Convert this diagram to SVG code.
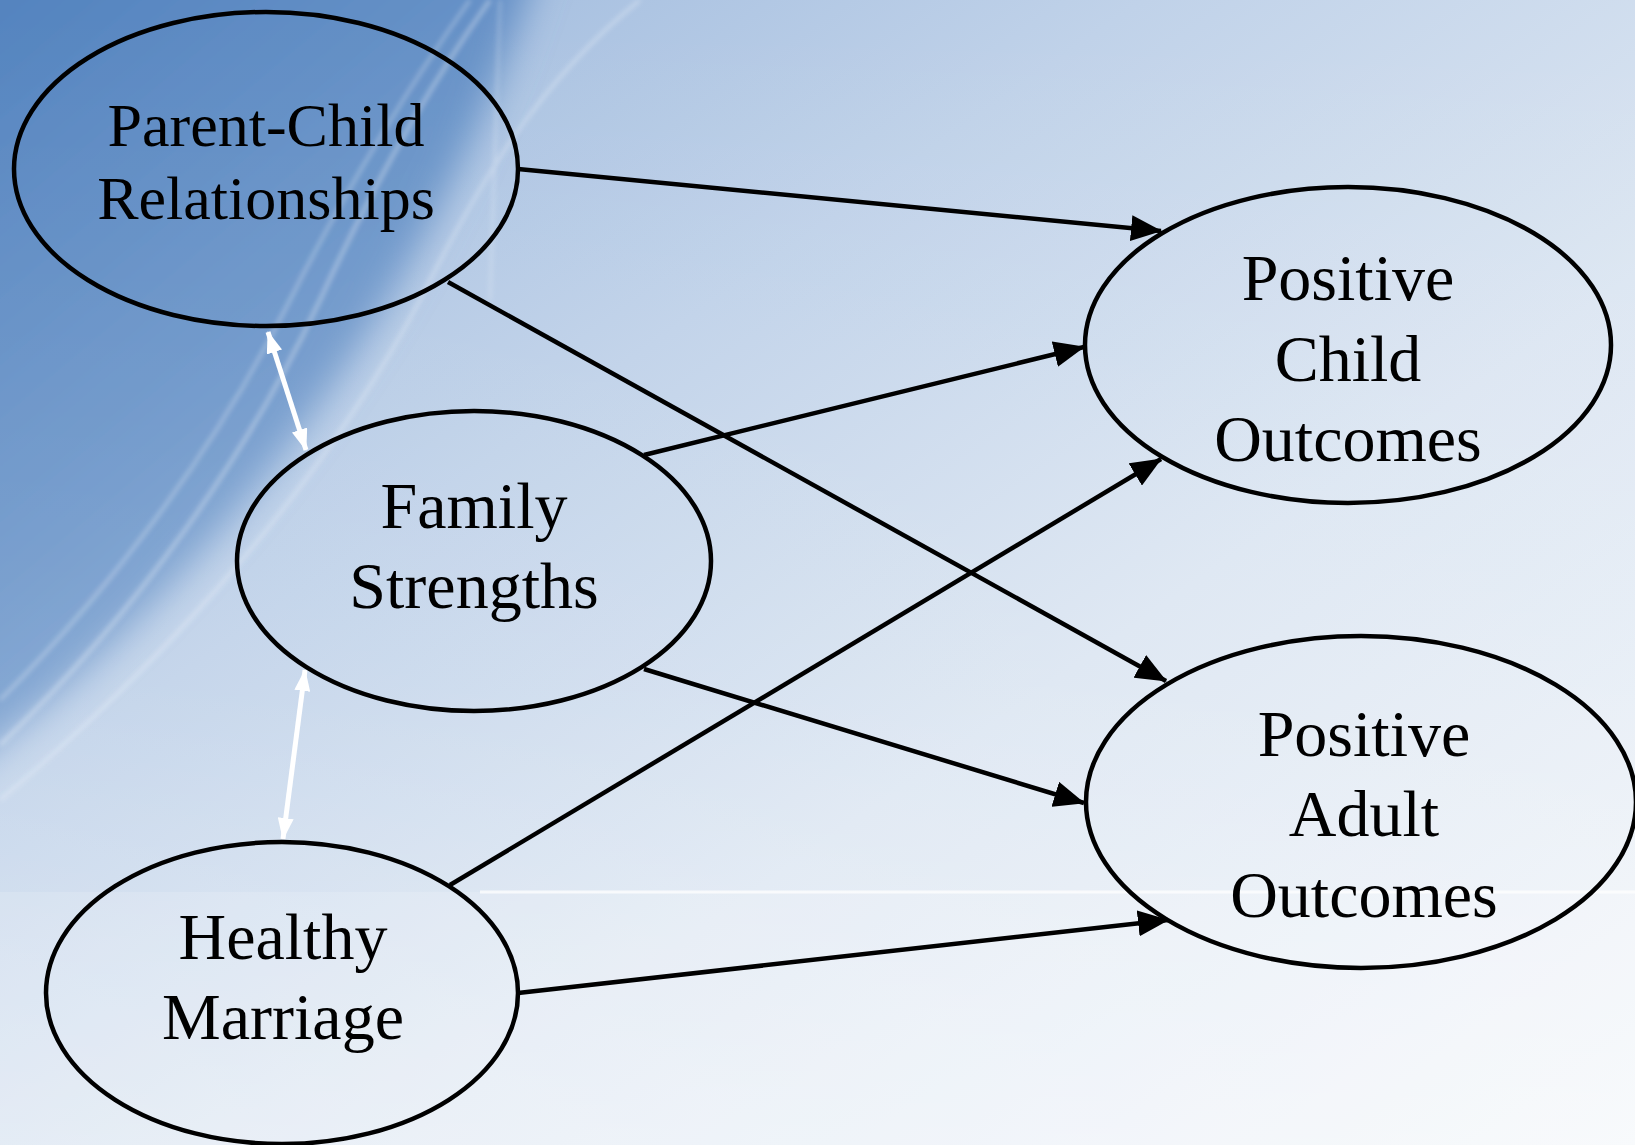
<svg xmlns="http://www.w3.org/2000/svg" width="1635" height="1145" viewBox="0 0 1635 1145">
<defs>
<linearGradient id="bg" x1="0" y1="0" x2="1" y2="1">
<stop offset="0" stop-color="#95b3da"/>
<stop offset="0.35" stop-color="#c0d2e9"/>
<stop offset="0.62" stop-color="#dce6f2"/>
<stop offset="1" stop-color="#f3f6fa"/>
</linearGradient>
<linearGradient id="dark" x1="0" y1="0" x2="0.6" y2="1">
<stop offset="0" stop-color="#4f80bd"/>
<stop offset="0.6" stop-color="#6e97ca"/>
<stop offset="1" stop-color="#8eafd8"/>
</linearGradient>
<linearGradient id="bgv" x1="0" y1="0" x2="0" y2="1">
<stop offset="0" stop-color="#ffffff" stop-opacity="0"/>
<stop offset="0.6" stop-color="#ffffff" stop-opacity="0.1"/>
<stop offset="1" stop-color="#ffffff" stop-opacity="0.35"/>
</linearGradient>
<filter id="blur" x="-20%" y="-20%" width="140%" height="140%">
<feGaussianBlur stdDeviation="18"/>
</filter>
<filter id="sblur" x="-10%" y="-10%" width="120%" height="120%">
<feGaussianBlur stdDeviation="2.5"/>
</filter>
<marker id="ah" markerUnits="userSpaceOnUse" markerWidth="32" markerHeight="26" refX="30" refY="13" orient="auto">
<path d="M0,0 L31,13 L0,26 z" fill="#000"/>
</marker>
<marker id="wh" markerUnits="userSpaceOnUse" markerWidth="22" markerHeight="16" refX="21" refY="8" orient="auto-start-reverse">
<path d="M0,0 L22,8 L0,16 z" fill="#fff"/>
</marker>
<style>
.node ellipse{fill:none;stroke:#000;stroke-width:4.5}
.node text{font-family:"Liberation Serif","Times New Roman",serif;font-size:66px;fill:#000;text-anchor:middle}
.c line{stroke:#000;stroke-width:4.5;marker-end:url(#ah)}
.w line{stroke:#fff;stroke-width:5;marker-start:url(#wh);marker-end:url(#wh)}
.sw{fill:none;stroke:#ffffff}
</style>
</defs>
<rect x="0" y="0" width="1635" height="1145" fill="url(#bg)"/>
<path d="M-60,-60 H545 C470,200 300,520 -60,790 Z" fill="url(#dark)" filter="url(#blur)"/>
<rect x="0" y="0" width="1635" height="1145" fill="url(#bgv)"/>
<g filter="url(#sblur)" opacity="0.35">
<path class="sw" stroke-width="4" d="M0,745 C140,610 250,450 320,300 C380,170 440,70 490,0"/>
<path class="sw" stroke-width="3" d="M0,700 C120,580 220,440 290,300 C350,180 420,70 470,0"/>
<path class="sw" stroke-width="3" d="M0,800 C180,650 330,470 420,300 C480,180 540,80 640,0"/>
<path class="sw" stroke-width="2" d="M500,0 L490,300"/>
</g>
<rect x="0" y="892" width="1635" height="253" fill="#ffffff" opacity="0.15"/>
<line x1="480" y1="892" x2="1635" y2="892" stroke="#ffffff" stroke-width="3" opacity="0.75"/>
<g id="connectors">
<g class="c">
<line x1="518" y1="169" x2="1161" y2="231"/>
<line x1="448" y1="282" x2="1166" y2="681"/>
<line x1="644" y1="455" x2="1084" y2="347"/>
<line x1="644" y1="669" x2="1084" y2="803"/>
<line x1="450" y1="885" x2="1161" y2="459"/>
<line x1="518" y1="993" x2="1168" y2="920"/>
</g>
<g class="w">
<line x1="268" y1="332" x2="306" y2="450"/>
<line x1="305" y1="670" x2="283" y2="839"/>
</g>
</g>
<g id="parent-child" class="node">
<ellipse cx="266" cy="169" rx="252" ry="157"/>
<text x="266" y="146" style="font-size:62px">Parent-Child</text>
<text x="266" y="219" style="font-size:62px">Relationships</text>
</g>
<g id="family-strengths" class="node">
<ellipse cx="474" cy="561" rx="237" ry="150"/>
<text x="474" y="528">Family</text>
<text x="474" y="608">Strengths</text>
</g>
<g id="healthy-marriage" class="node">
<ellipse cx="282" cy="993" rx="236" ry="151"/>
<text x="283" y="959">Healthy</text>
<text x="283" y="1039">Marriage</text>
</g>
<g id="positive-child" class="node">
<ellipse cx="1348" cy="345" rx="263" ry="158"/>
<text x="1348" y="300">Positive</text>
<text x="1348" y="381">Child</text>
<text x="1348" y="461">Outcomes</text>
</g>
<g id="positive-adult" class="node">
<ellipse cx="1361" cy="802" rx="275" ry="166"/>
<text x="1364" y="756">Positive</text>
<text x="1364" y="836">Adult</text>
<text x="1364" y="917">Outcomes</text>
</g>
</svg>
